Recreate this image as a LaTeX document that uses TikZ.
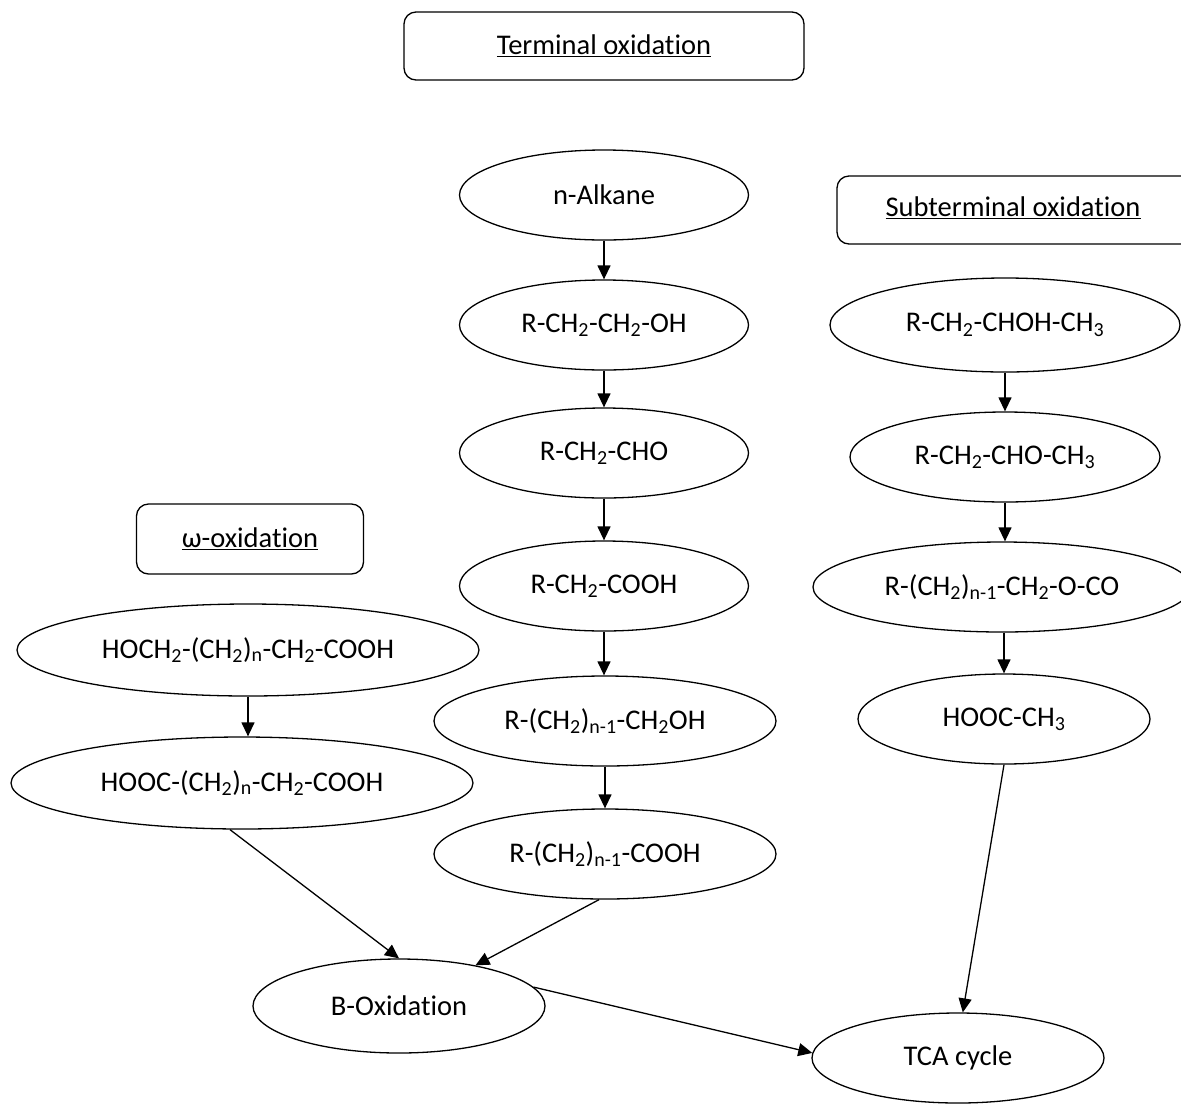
\documentclass[tikz,border=0pt]{standalone}
\usepackage{fontspec}
\setmainfont[RawFeature={-liga;-dlig}]{Carlito}
\usetikzlibrary{arrows.meta,shapes.geometric}
\newcommand{\sbs}[1]{\textsubscript{#1}}
\begin{document}
\begin{tikzpicture}[x=1pt,y=-1pt,
  every node/.style={font=\fontsize{28.5}{32}\selectfont},
  titlebox/.style={draw,rounded corners=12pt,line width=1.3pt,inner sep=0pt},
  oval/.style={draw,ellipse,line width=1.3pt,inner sep=0pt},
  arr/.style={line width=1.3pt,-{Triangle[length=14pt,width=13pt]}}]
\useasboundingbox (0,0) rectangle (1181,1104);
% title boxes
\node[titlebox,minimum width=400pt,minimum height=68pt] (term) at (604,46) {\underline{Terminal oxidation}};
\node[titlebox,minimum width=360pt,minimum height=68pt] (subt) at (1017,210) {};
\node at (1013,208) {\underline{Subterminal oxidation}};
\node[titlebox,minimum width=227pt,minimum height=70pt] (omega) at (250,539) {\underline{ω-oxidation}};
% middle column
\node[oval,minimum width=289pt,minimum height=90pt] (alk) at (604,195) {n-Alkane};
\node[oval,minimum width=289pt,minimum height=90pt] (alc) at (604,325) {R-CH\sbs{2}-CH\sbs{2}-OH};
\node[oval,minimum width=289pt,minimum height=90pt] (ald) at (604,453) {R-CH\sbs{2}-CHO};
\node[oval,minimum width=289pt,minimum height=90pt] (acid) at (604,586) {R-CH\sbs{2}-COOH};
\node[oval,minimum width=342pt,minimum height=90pt] (alc2) at (605,721) {R-(CH\sbs{2})\sbs{n-1}-CH\sbs{2}OH};
\node[oval,minimum width=342pt,minimum height=90pt] (acid2) at (605,854) {R-(CH\sbs{2})\sbs{n-1}-COOH};
% right column
\node[oval,minimum width=350pt,minimum height=94pt] (s1) at (1005,325) {R-CH\sbs{2}-CHOH-CH\sbs{3}};
\node[oval,minimum width=310pt,minimum height=90pt] (s2) at (1005,457) {R-CH\sbs{2}-CHO-CH\sbs{3}};
\node[oval,minimum width=378pt,minimum height=90pt] (s3) at (1002,587) {R-(CH\sbs{2})\sbs{n-1}-CH\sbs{2}-O-CO};
\node[oval,minimum width=292pt,minimum height=90pt] (s4) at (1004,719) {HOOC-CH\sbs{3}};
% left column
\node[oval,minimum width=462pt,minimum height=92pt] (w1) at (248,650) {HOCH\sbs{2}-(CH\sbs{2})\sbs{n}-CH\sbs{2}-COOH};
\node[oval,minimum width=462pt,minimum height=92pt] (w2) at (242,783) {HOOC-(CH\sbs{2})\sbs{n}-CH\sbs{2}-COOH};
% bottom
\node[oval,minimum width=292pt,minimum height=94pt] (box) at (399,1006) {B-Oxidation};
\node[oval,minimum width=292pt,minimum height=90pt] (tca) at (958,1058) {TCA cycle};
% arrows
\draw[arr] (alk.south) -- (alc.north);
\draw[arr] (alc.south) -- (ald.north);
\draw[arr] (ald.south) -- (acid.north);
\draw[arr] (acid.south) -- (alc2.north -| acid.south);
\draw[arr] (alc2.south) -- (acid2.north);
\draw[arr] (s1.south) -- (s2.north);
\draw[arr] (s2.south) -- (s3.north -| s2.south);
\draw[arr] (s3.south -| s4.north) -- (s4.north);
\draw[arr] (w1.south) -- (w2.north -| w1.south);
\draw[arr] ([xshift=-12pt]w2.south) -- (box.north);
\draw[arr] ([xshift=-6pt]acid2.south) -- (box.28);
\draw[arr] (box.8) -- (tca.178);
\draw[arr] (s4.south) -- (tca.84);
\end{tikzpicture}
\end{document}
